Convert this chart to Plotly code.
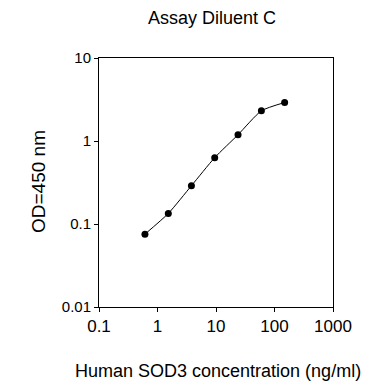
import plotly.graph_objects as go

# Data
concentration = [0.61, 1.53, 3.8, 9.5, 23.8, 59.7, 149]
od450 = [0.0755, 0.134, 0.289, 0.63, 1.19, 2.31, 2.91]

x_tickvals = [0.1, 1, 10, 100, 1000]
x_ticktext = ["0.1", "1", "10", "100", "1000"]
y_tickvals = [0.01, 0.1, 1, 10]
y_ticktext = ["0.01", "0.1", "1", "10"]

FONT = "Liberation Sans, Arial, sans-serif"
# the page body has an 8px margin, so the figure is 8px smaller than the window
W, H = 370, 384
L, R, T, B = 91, 45, 50, 85
PW, PH = W - L - R, H - T - B

fig = go.Figure()
fig.add_trace(go.Scatter(
    x=concentration, y=od450,
    mode="lines+markers",
    line=dict(color="black", width=1, shape="spline", smoothing=0.6),
    marker=dict(color="black", size=7),
    showlegend=False,
    hoverinfo="skip",
))

fig.update_layout(
    width=W, height=H,
    margin=dict(l=L, r=R, t=T, b=B, autoexpand=False),
    paper_bgcolor="white", plot_bgcolor="white",
    font=dict(family=FONT, color="black"),
    title=dict(text="Assay Diluent C", x=204 / W, xref="container", xanchor="center",
               y=1 - 10 / H, yref="container", yanchor="middle",
               font=dict(size=18, family=FONT, color="black")),
    annotations=[
        dict(text="Human SOD3 concentration (ng/ml)", xref="paper", yref="paper",
             x=(210 - L) / PW, y=-(363 - (H - B)) / PH,
             xanchor="center", yanchor="middle", showarrow=False,
             font=dict(size=18, family=FONT, color="black")),
        dict(text="OD=450 nm", xref="paper", yref="paper", textangle=-90,
             x=-(L - 30) / PW, y=(H - B - 173) / PH,
             xanchor="center", yanchor="middle", showarrow=False,
             font=dict(size=19, family=FONT, color="black")),
    ],
)

fig.update_xaxes(
    type="log", range=[-1, 3], automargin=False,
    tickvals=x_tickvals, ticktext=x_ticktext,
    ticks="outside", ticklen=4, tickwidth=1, tickcolor="black",
    tickfont=dict(size=17, family=FONT, color="black"),
    showline=True, linecolor="black", linewidth=1, mirror=True,
    showgrid=False, zeroline=False,
)
fig.update_yaxes(
    type="log", range=[-2, 1], automargin=False,
    tickvals=y_tickvals, ticktext=y_ticktext,
    ticks="outside", ticklen=4, tickwidth=1, tickcolor="black",
    tickfont=dict(size=15, family=FONT, color="black"),
    showline=True, linecolor="black", linewidth=1, mirror=True,
    showgrid=False, zeroline=False,
)

fig.write_html("out.html")
